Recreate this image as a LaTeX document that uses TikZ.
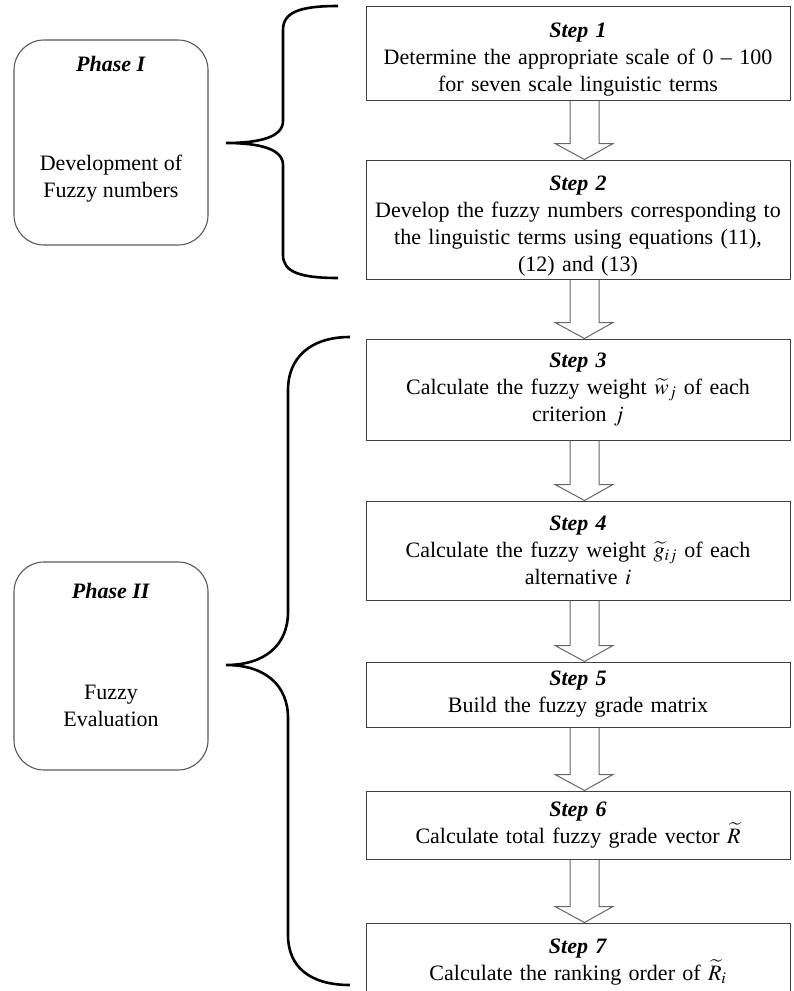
\documentclass[tikz,border=0pt]{standalone}
\usepackage{mathptmx}
\usepackage{fontspec}
\setmainfont{Liberation Serif}
\usetikzlibrary{calc,positioning}

\newcommand{\hollowdown}[2]{%
  \draw[hollow] ($(#1.south)+(-8,0)$) -- ($(#2.north)+(-8,-16)$)
    -- ($(#2.north)+(-23,-16)$) -- ($(#2.north)+(6.5,0)$)
    -- ($(#2.north)+(35,-16)$) -- ($(#2.north)+(21,-16)$)
    -- ($(#1.south)+(21,0)$);}

\begin{document}
\begin{tikzpicture}
          [ x=1pt, y=-1pt,
            stepbox/.style={
              rectangle,
              draw=black!75,
              line width=1pt,
              text width=414pt,
              inner xsep=5pt,
              inner ysep=1pt,
              align=center,
              font=\fontsize{22}{27}\selectfont},
            lowered/.style={
              execute at begin node=\rule{0pt}{28pt}},
            phasebox/.style={
              rectangle,
              draw=black!65,
              line width=1.1pt,
              rounded corners=30pt,
              minimum width=194pt},
            phasetext/.style={
              align=center,
              font=\fontsize{22}{27}\selectfont},
            hollow/.style={
              draw=black!60,
              line width=1pt,
              line join=miter},
            bracket/.style={
              draw,
              line width=2.6pt},
          ]
          \useasboundingbox (0,0) rectangle (793,991);

          % steps
          \node (s1) [stepbox, lowered, minimum height=94pt] at (578,53)
            {\textbf{\textit{Step 1}}\\
             Determine the appropriate scale of 0 -- 100\\
             for seven scale linguistic terms};
          \node (s2) [stepbox, lowered, minimum height=119pt, below=59pt of s1]
            {\textbf{\textit{Step 2}}\\
             Develop the fuzzy numbers corresponding to\\
             the linguistic terms using equations (11),\\
             (12) and (13)};
          \node (s3) [stepbox, minimum height=101pt, below=59pt of s2]
            {\textbf{\textit{Step 3}}\\
             Calculate the fuzzy weight $\widetilde{w}_j$ of each\\
             criterion $j$};
          \node (s4) [stepbox, minimum height=99pt, below=60pt of s3]
            {\textbf{\textit{Step 4}}\\
             Calculate the fuzzy weight $\widetilde{g}_{ij}$ of each\\
             alternative $i$};
          \node (s5) [stepbox, minimum height=65pt, below=61pt of s4]
            {\textbf{\textit{Step 5}}\\
             Build the fuzzy grade matrix};
          \node (s6) [stepbox, minimum height=68pt, below=63pt of s5]
            {\textbf{\textit{Step 6}}\\
             Calculate total fuzzy grade vector $\widetilde{R}$};
          \node (s7) [stepbox, minimum height=78pt, below=63pt of s6]
            {\textbf{\textit{Step 7}}\\
             Calculate the ranking order of $\widetilde{R}_i$};

          \hollowdown{s1}{s2}
          \hollowdown{s2}{s3}
          \hollowdown{s3}{s4}
          \hollowdown{s4}{s5}
          \hollowdown{s5}{s6}
          \hollowdown{s6}{s7}

          % phases
          \node (ph1) [phasebox, minimum height=205pt] at (111,142.5) {};
          \node (ph1t) [phasetext] at ($(ph1.north)+(0,25)$)
            {\textbf{\textit{Phase I}}};
          \node (ph1b) [phasetext] at ($(ph1.center)+(0,36.5)$)
            {Development of\\ Fuzzy numbers};

          \node (ph2) [phasebox, minimum height=208pt] at (111,666) {};
          \node (ph2t) [phasetext] at ($(ph2.north)+(0,30)$)
            {\textbf{\textit{Phase II}}};
          \node (ph2b) [phasetext] at ($(ph2.center)+(0,39.5)$)
            {Fuzzy\\ Evaluation};

          % braces
          \draw[bracket] (338,6) .. controls (300,6) and (283,12) .. (283,30)
            -- (283,121) .. controls (283,137) and (260,143) .. (226,143)
            .. controls (260,143) and (283,149) .. (283,165)
            -- (283,255) .. controls (283,272) and (300,278) .. (338,278);
          \draw[bracket] (350,337) .. controls (310,337) and (288,358) .. (288,390)
            -- (288,612) .. controls (288,645) and (265,665) .. (226,665)
            .. controls (265,665) and (288,685) .. (288,718)
            -- (288,935) .. controls (288,967) and (310,985) .. (350,985);
\end{tikzpicture}
\end{document}
